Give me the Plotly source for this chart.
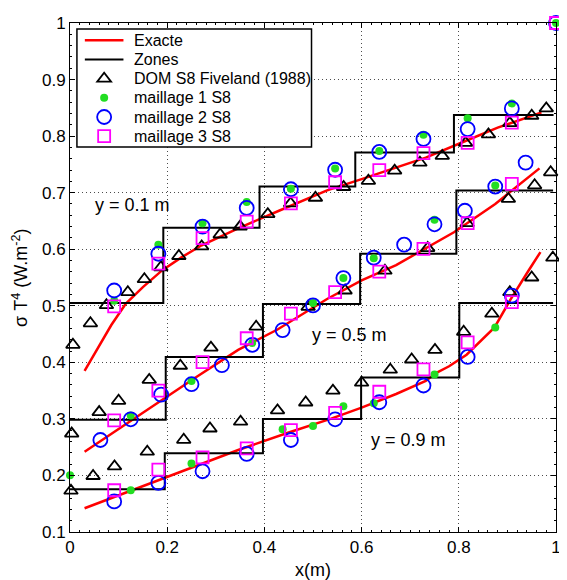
import numpy as np
import plotly.graph_objects as go

# ---------------- data ----------------
# Exact solution (red lines) for y = 0.1, 0.5, 0.9 m
ex_top_x = [0.03, 0.06, 0.085, 0.115, 0.15, 0.19, 0.23, 0.271, 0.346, 0.43, 0.529, 0.6, 0.671, 0.732, 0.81, 0.88, 0.956, 0.97]
ex_top_y = [0.385, 0.43, 0.466, 0.504, 0.533, 0.563, 0.586, 0.607, 0.637, 0.668, 0.704, 0.724, 0.744, 0.762, 0.790, 0.815, 0.8375, 0.842]
ex_mid_x = [0.03, 0.1, 0.183, 0.26, 0.346, 0.427, 0.529, 0.6, 0.671, 0.732, 0.79, 0.875, 0.966]
ex_mid_y = [0.242, 0.282, 0.331, 0.374, 0.422, 0.458, 0.512, 0.545, 0.572, 0.601, 0.630, 0.680, 0.743]
ex_bot_x = [0.03, 0.1, 0.183, 0.26, 0.346, 0.45, 0.536, 0.6, 0.671, 0.732, 0.753, 0.78, 0.816, 0.8735, 0.905, 0.943, 0.968]
ex_bot_y = [0.142, 0.165, 0.192, 0.217, 0.245, 0.276, 0.300, 0.320, 0.344, 0.367, 0.381, 0.393, 0.4135, 0.4618, 0.509, 0.5615, 0.595]

# Zones (black step lines): zone boundaries and zone values
zn_top_b = [0.0, 0.192, 0.39, 0.587, 0.79, 0.995]
zn_top_v = [0.505, 0.638, 0.711, 0.771, 0.8375]
zn_mid_b = [0.0, 0.197, 0.397, 0.597, 0.795, 0.994]
zn_mid_v = [0.2986, 0.4095, 0.503, 0.592, 0.704]
zn_bot_b = [0.0, 0.195, 0.397, 0.599, 0.801, 0.994]
zn_bot_v = [0.1755, 0.2394, 0.300, 0.373, 0.505]

# DOM S8 Fiveland (1988)
dom_top_x = [0.006, 0.042, 0.075, 0.119, 0.153, 0.187, 0.224, 0.271, 0.309, 0.35, 0.407, 0.454, 0.505, 0.563, 0.614, 0.668, 0.72, 0.766, 0.814, 0.861, 0.905, 0.95, 0.98]
dom_top_y = [0.431, 0.469, 0.501, 0.524, 0.547, 0.568, 0.588, 0.605, 0.626, 0.640, 0.662, 0.681, 0.691, 0.710, 0.721, 0.739, 0.753, 0.765, 0.788, 0.803, 0.823, 0.836, 0.849]
dom_mid_x = [0.0035, 0.06, 0.1, 0.163, 0.227, 0.29, 0.383, 0.49, 0.566, 0.648, 0.736, 0.817, 0.902, 0.956, 0.989]
dom_mid_y = [0.274, 0.312, 0.332, 0.369, 0.394, 0.426, 0.463, 0.498, 0.527, 0.562, 0.602, 0.646, 0.689, 0.713, 0.736]
dom_bot_x = [0.002, 0.0475, 0.0916, 0.159, 0.234, 0.288, 0.351, 0.427, 0.485, 0.541, 0.600, 0.659, 0.703, 0.751, 0.810, 0.868, 0.905, 0.950, 0.9935]
dom_bot_y = [0.173, 0.199, 0.216, 0.242, 0.263, 0.283, 0.295, 0.315, 0.329, 0.350, 0.364, 0.387, 0.405, 0.422, 0.454, 0.486, 0.524, 0.550, 0.585]

# maillage 1 S8 (green dots)
m1_top_x = [0.0909, 0.1818, 0.2727, 0.3636, 0.4545, 0.5455, 0.6364, 0.7273, 0.8182, 0.9091, 1.0]
m1_top_y = [0.509, 0.608, 0.646, 0.6835, 0.707, 0.7427, 0.7736, 0.8026, 0.8316, 0.8577, 1.0]
m1_mid_x = [0.125, 0.25, 0.375, 0.5, 0.5625, 0.625, 0.75, 0.875]
m1_mid_y = [0.306, 0.367, 0.434, 0.505, 0.549, 0.584, 0.652, 0.7126]
m1_bot_x = [0.0, 0.125, 0.25, 0.4375, 0.5, 0.5625, 0.625, 0.75, 0.875]
m1_bot_y = [0.2005, 0.1738, 0.2209, 0.2818, 0.2876, 0.3224, 0.3276, 0.3787, 0.4618]

# maillage 2 S8 (blue circles)
m2_top_x = [0.0909, 0.1818, 0.2727, 0.3636, 0.4545, 0.5455, 0.6364, 0.7273, 0.8182, 0.9091, 1.0]
m2_top_y = [0.527, 0.592, 0.640, 0.673, 0.706, 0.7405, 0.772, 0.795, 0.8124, 0.849, 1.0]
m2_mid_x = [0.0625, 0.125, 0.1875, 0.25, 0.3125, 0.375, 0.4375, 0.5, 0.5625, 0.625, 0.6875, 0.75, 0.8125, 0.875, 0.9375]
m2_mid_y = [0.2627, 0.2993, 0.3428, 0.3613, 0.395, 0.431, 0.457, 0.5006, 0.5489, 0.585, 0.608, 0.6441, 0.668, 0.7108, 0.7532]
m2_bot_x = [0.0909, 0.1818, 0.2727, 0.3636, 0.4545, 0.5455, 0.6364, 0.7273, 0.8182, 0.9091]
m2_bot_y = [0.154, 0.187, 0.2074, 0.238, 0.2627, 0.2993, 0.3294, 0.359, 0.4095, 0.518]

# maillage 3 S8 (magenta squares)
m3_top_x = [0.0909, 0.1818, 0.2727, 0.3636, 0.4545, 0.5455, 0.6364, 0.7273, 0.8182, 0.9091, 1.0]
m3_top_y = [0.499, 0.5745, 0.6195, 0.6487, 0.681, 0.7184, 0.740, 0.770, 0.788, 0.824, 1.0]
m3_mid_x = [0.0909, 0.1818, 0.2727, 0.3636, 0.4545, 0.5455, 0.6364, 0.7273, 0.8182, 0.9091]
m3_mid_y = [0.2975, 0.3498, 0.4003, 0.4426, 0.4862, 0.524, 0.5605, 0.6005, 0.646, 0.7155]
m3_bot_x = [0.0909, 0.1818, 0.2727, 0.3636, 0.4545, 0.5455, 0.6364, 0.7273, 0.8182, 0.9091]
m3_bot_y = [0.1738, 0.2104, 0.2318, 0.248, 0.280, 0.3108, 0.348, 0.3874, 0.4352, 0.5065]

x_ticks = [0, 0.2, 0.4, 0.6, 0.8, 1]
x_ticklabels = ["0", "0.2", "0.4", "0.6", "0.8", "1"]
y_ticks = [0.1, 0.2, 0.3, 0.4, 0.5, 0.6, 0.7, 0.8, 0.9, 1.0]
y_ticklabels = ["0.1", "0.2", "0.3", "0.4", "0.5", "0.6", "0.7", "0.8", "0.9", "1"]

labels = [("y = 0.1 m", 0.128, 0.678), ("y = 0.5 m", 0.576, 0.448), ("y = 0.9 m", 0.697, 0.262)]
legend_names = ["Exacte", "Zones", "DOM S8 Fiveland (1988)", "maillage 1 S8", "maillage 2 S8", "maillage 3 S8"]

# ---------------- figure ----------------
FONT = "Liberation Sans, Arial, sans-serif"
RED, BLACK, GREEN, BLUE, MAGENTA = "#ff0000", "#000000", "#22dd22", "#0000ff", "#ff00ff"


def steps(b, v):
    xs, ys = [], []
    for i, val in enumerate(v):
        xs += [b[i], b[i + 1]]
        ys += [val, val]
    return xs, ys


fig = go.Figure()

for (x, y) in [(ex_top_x, ex_top_y), (ex_mid_x, ex_mid_y), (ex_bot_x, ex_bot_y)]:
    fig.add_trace(go.Scatter(x=x, y=y, mode="lines", name=legend_names[0],
                             line=dict(color=RED, width=2.5)))

for (b, v) in [(zn_top_b, zn_top_v), (zn_mid_b, zn_mid_v), (zn_bot_b, zn_bot_v)]:
    sx, sy = steps(b, v)
    fig.add_trace(go.Scatter(x=sx, y=sy, mode="lines", name=legend_names[1],
                             line=dict(color=BLACK, width=2)))

marker_sets = [
    (legend_names[2], [(dom_top_x, dom_top_y), (dom_mid_x, dom_mid_y), (dom_bot_x, dom_bot_y)],
     dict(symbol="triangle-up-open", size=12, color=BLACK, line=dict(color=BLACK, width=1.8))),
    (legend_names[3], [(m1_top_x, m1_top_y), (m1_mid_x, m1_mid_y), (m1_bot_x, m1_bot_y)],
     dict(symbol="circle", size=8, color=GREEN, line=dict(width=0))),
    (legend_names[4], [(m2_top_x, m2_top_y), (m2_mid_x, m2_mid_y), (m2_bot_x, m2_bot_y)],
     dict(symbol="circle-open", size=14, color=BLUE, line=dict(color=BLUE, width=1.8))),
    (legend_names[5], [(m3_top_x, m3_top_y), (m3_mid_x, m3_mid_y), (m3_bot_x, m3_bot_y)],
     dict(symbol="square-open", size=12, color=MAGENTA, line=dict(color=MAGENTA, width=1.8))),
]
for name, series, mk in marker_sets:
    for (x, y) in series:
        fig.add_trace(go.Scatter(x=x, y=y, mode="markers", name=name, marker=mk, cliponaxis=False))

for txt, lx, ly in labels:
    fig.add_annotation(x=lx, y=ly, text=txt, showarrow=False, xref="x", yref="y",
                       font=dict(family=FONT, size=18, color="black"))

fig.add_annotation(x=-0.102, y=0.5, xref="paper", yref="paper", text="σ T<sup>4</sup> (W.m<sup>-2</sup>)",
                   textangle=-90, showarrow=False, xanchor="center", yanchor="middle",
                   font=dict(family=FONT, size=18, color="black"))
fig.add_annotation(x=0.5, y=-0.074, xref="paper", yref="paper", text="x(m)", xanchor="center",
                   yanchor="middle", showarrow=False, font=dict(family=FONT, size=18, color="black"))

# ---------------- legend (box, samples and real text) ----------------
PW, PH, PL, PT = 491.0, 517.0, 70.0, 15.0   # plot area in window pixels


def px(xw):
    return (xw - PL) / PW


def py(yw):
    return 1 - (yw - PT) / PH


rows = [32.5, 52.0, 71.5, 91.0, 110.5, 130.0]
fig.add_shape(type="rect", xref="paper", yref="paper", x0=px(77), x1=px(314), y0=py(141), y1=py(21),
              line=dict(color="black", width=1.5), fillcolor="white", layer="above")
for k, col in enumerate([RED, BLACK]):
    fig.add_shape(type="line", xref="paper", yref="paper", x0=px(85), x1=px(124),
                  y0=py(rows[k]), y1=py(rows[k]), line=dict(color=col, width=2.5 if k == 0 else 2))
sx = px(104.5)
fig.add_shape(type="path", xref="paper", yref="paper", xsizemode="pixel", ysizemode="pixel",
              xanchor=sx, yanchor=py(rows[2]), path="M-6.93,-3 L6.93,-3 L0,6 Z",
              line=dict(color=BLACK, width=1.8))
fig.add_shape(type="circle", xref="paper", yref="paper", xsizemode="pixel", ysizemode="pixel",
              xanchor=sx, yanchor=py(rows[3]), x0=-4, x1=4, y0=-4, y1=4,
              fillcolor=GREEN, line=dict(width=0))
fig.add_shape(type="circle", xref="paper", yref="paper", xsizemode="pixel", ysizemode="pixel",
              xanchor=sx, yanchor=py(rows[4]), x0=-7, x1=7, y0=-7, y1=7,
              line=dict(color=BLUE, width=1.8))
fig.add_shape(type="rect", xref="paper", yref="paper", xsizemode="pixel", ysizemode="pixel",
              xanchor=sx, yanchor=py(rows[5]), x0=-6, x1=6, y0=-6, y1=6,
              line=dict(color=MAGENTA, width=1.8))
for k, nm in enumerate(legend_names):
    fig.add_annotation(x=px(133), y=py(rows[k]), xref="paper", yref="paper", text=nm,
                       xanchor="left", yanchor="middle", showarrow=False,
                       font=dict(family=FONT, size=16, color="black"))

axis_common = dict(showline=True, linecolor="black", linewidth=1, mirror="ticks",
                   ticks="inside", ticklen=5, tickcolor="black", showgrid=True,
                   gridcolor="rgba(0,0,0,0.7)", griddash="1px,3px", gridwidth=1, zeroline=False,
                   ticklabeloverflow="allow",
                   tickfont=dict(family=FONT, size=17, color="black"))

fig.update_xaxes(range=[0, 1], tickvals=x_ticks, ticktext=x_ticklabels,
                 minor=dict(ticks="inside", ticklen=2, dtick=0.02, tickcolor="black", showgrid=False),
                 **axis_common)
fig.update_yaxes(range=[0.1, 1], tickvals=y_ticks, ticktext=y_ticklabels,
                 minor=dict(ticks="inside", ticklen=2, dtick=0.02, tickcolor="black", showgrid=False),
                 **axis_common)

# the page body has an 8px default margin, so the figure is 8px smaller than the window
fig.update_layout(
    width=559, height=572,
    margin=dict(l=62, r=6, t=7, b=48),
    plot_bgcolor="white", paper_bgcolor="white",
    font=dict(family=FONT, size=16, color="black"),
    showlegend=False,
)

fig.write_html("out.html")
